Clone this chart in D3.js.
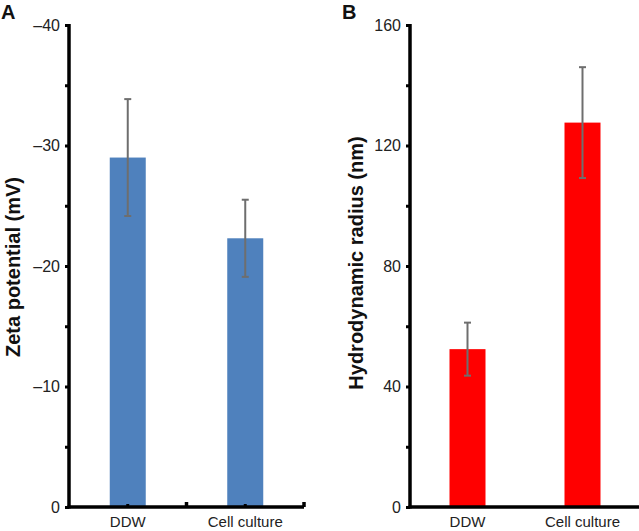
<!DOCTYPE html>
<html>
<head>
<meta charset="utf-8">
<script src="https://cdn.jsdelivr.net/npm/d3@7"></script>
<style>
	body{margin:0;background:#fff}
	text{font-family:"Liberation Sans",Arial,sans-serif}
</style>
</head>
<body>
<div id="chart"></div>
<script>
// datos
const categorias = ["DDW", "Cell culture"]
const zetaMedia = [-29.0, -22.3]
const zetaError = [4.85, 3.2]
const radioMedia = [52.4, 127.6]
const radioError = [8.8, 18.4]
const zetaTicks = [0, -5, -10, -15, -20, -25, -30, -35, -40]
const radioTicks = [0, 20, 40, 60, 80, 100, 120, 140, 160]

const width = 639, height = 531
const svg = d3.select("#chart").append("svg")
	.attr("width", width).attr("height", height)

const y0 = 507, yTop = 25

function panel(p){
	const g = svg.append("g")

	const x = d3.scaleBand().domain(categorias).range([p.left, p.right]).padding(0)
	const y = d3.scaleLinear().domain(p.domain).range([y0, yTop])
	const barW = 36

	// barras
	g.selectAll("rect.bar").data(categorias).enter().append("rect")
		.attr("x", d => x(d) + x.bandwidth()/2 - barW/2)
		.attr("width", barW)
		.attr("y", (d,i) => Math.min(y(p.media[i]), y(0)))
		.attr("height", (d,i) => Math.abs(y(0) - y(p.media[i])))
		.attr("fill", p.color)

	// barras de error
	const err = g.selectAll("g.err").data(categorias).enter().append("g")
		.attr("stroke", "#6e6e6e").attr("stroke-width", 2)
	const cx = d => x(d) + x.bandwidth()/2
	err.append("line")
		.attr("x1", cx).attr("x2", cx)
		.attr("y1", (d,i) => y(p.media[i] - p.err[i]))
		.attr("y2", (d,i) => y(p.media[i] + p.err[i]))
	err.append("line")
		.attr("x1", d => cx(d) - 3.5).attr("x2", d => cx(d) + 3.5)
		.attr("y1", (d,i) => y(p.media[i] - p.err[i]))
		.attr("y2", (d,i) => y(p.media[i] - p.err[i]))
	err.append("line")
		.attr("x1", d => cx(d) - 3.5).attr("x2", d => cx(d) + 3.5)
		.attr("y1", (d,i) => y(p.media[i] + p.err[i]))
		.attr("y2", (d,i) => y(p.media[i] + p.err[i]))

	// eje y
	const ay = g.append("g")
		.attr("transform", "translate(" + p.left + ",0)")
		.call(d3.axisLeft(y).tickValues(p.ticks).tickSize(4).tickSizeOuter(0).tickPadding(5)
			.tickFormat(d => d % p.labelStep === 0 ? (d < 0 ? "\u2013" + Math.abs(d) : d) : ""))
	ay.select(".domain").attr("stroke", "#000").attr("stroke-width", 3.5)
		.attr("d", "M0," + (yTop - 1) + "V" + (y0 + 1.5))
	ay.selectAll(".tick line").attr("stroke-width", 3)
	ay.selectAll(".tick text").attr("font-size", 16).attr("fill", "#222")

	// eje x
	const ax = g.append("g")
		.attr("transform", "translate(0," + y0 + ")")
		.call(d3.axisBottom(x).tickSize(0).tickPadding(9))
	ax.select(".domain").attr("stroke", "#000").attr("stroke-width", 3.5)
		.attr("d", "M" + (p.left - 1.5) + ",0H" + p.right)
	ax.selectAll(".tick text").attr("font-size", 15).attr("fill", "#222")

	if(p.xTicks){
		ax.selectAll(".tick").append("line")
			.attr("y1", 0).attr("y2", -3).attr("stroke", "#000").attr("stroke-width", 3)
		g.selectAll("line.sep").data(categorias).enter().append("line")
			.attr("x1", d => x(d) + x.step()).attr("x2", d => x(d) + x.step())
			.attr("y1", y0).attr("y2", y0 - 5)
			.attr("stroke", "#000").attr("stroke-width", 3.5)
	}

	// titulo del eje
	svg.append("text")
		.attr("transform", "translate(" + p.labelX + "," + p.labelY + ") rotate(-90)")
		.attr("text-anchor", "middle")
		.attr("font-size", 20).attr("font-weight", "bold").attr("fill", "#111")
		.text(p.titulo)

	svg.append("text")
		.attr("x", p.letraX).attr("y", 19)
		.attr("font-size", 20).attr("font-weight", "bold").attr("fill", "#111")
		.text(p.letra)
}

panel({left: 69, right: 304, domain: [0, -40], ticks: zetaTicks, labelStep: 10,
	media: zetaMedia, err: zetaError, color: "#4f81bd", xTicks: true,
	titulo: "Zeta potential (mV)", labelX: 20, labelY: 267, letra: "A", letraX: 1})

panel({left: 410, right: 640, domain: [0, 160], ticks: radioTicks, labelStep: 40,
	media: radioMedia, err: radioError, color: "#ff0000", xTicks: false,
	titulo: "Hydrodynamic radius (nm)", labelX: 363, labelY: 263, letra: "B", letraX: 342})
</script>
</body>
</html>
